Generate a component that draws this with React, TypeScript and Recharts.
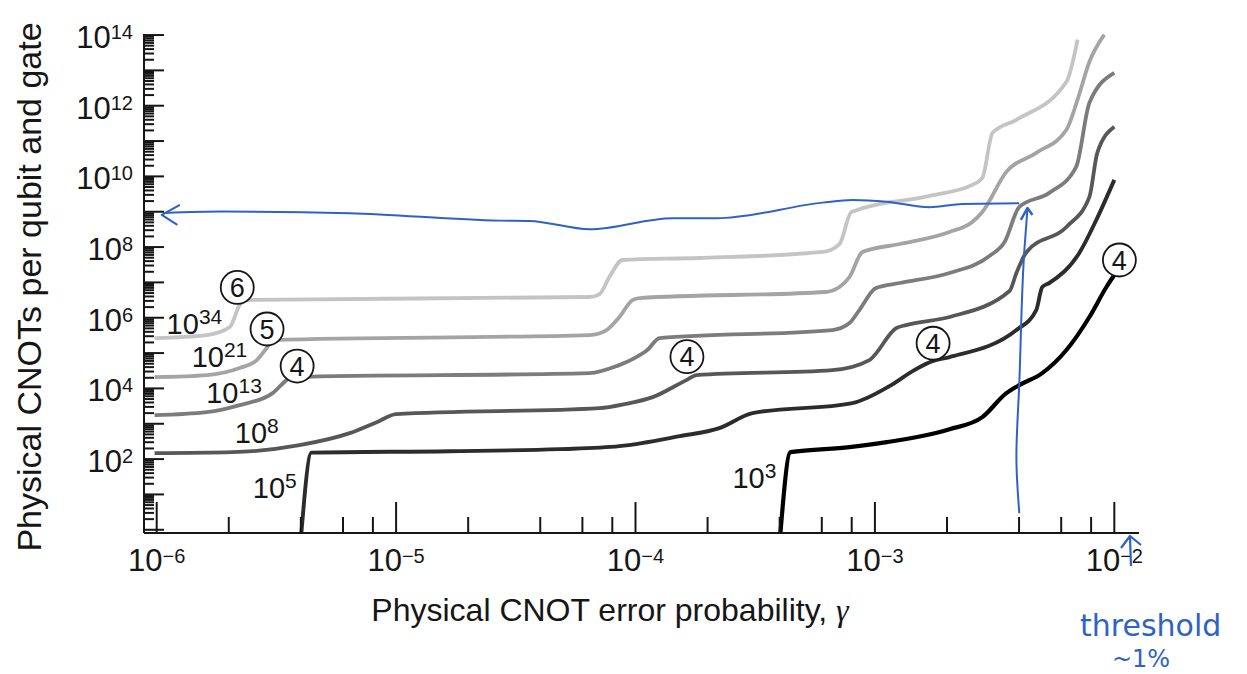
import React from 'react';
import { LineChart, Line, XAxis, YAxis, ReferenceDot } from 'recharts';

type Pt = [number, number];

const W = 1247;
const H = 674;

// physical CNOT error probability (x) vs physical CNOTs per logical qubit and gate (y)
// one curve per total computation size, lightest = 10^34 gates, black = 10^3 gates
const curve1e34: Pt[] = [
  [9.8e-7, 2.66e5], [1.62e-6, 3.24e5], [2.02e-6, 5.45e5], [2.22e-6, 2.29e6], [2.38e-6, 3.17e6],
  [6.43e-5, 3.86e6], [7.08e-5, 4.69e6], [7.78e-5, 1.42e7], [8.83e-5, 4.31e7], [1.85e-4, 4.91e7],
  [6.04e-4, 7.26e7], [7.11e-4, 1.22e8], [7.98e-4, 9.87e8], [1.69e-3, 2.8e9], [2.55e-3, 5.74e9],
  [2.81e-3, 9.07e9], [3.1e-3, 1.71e11], [3.9e-3, 3.99e11], [6.31e-3, 4.75e12], [7.02e-3, 7.36e13],
];
const curve1e21: Pt[] = [
  [9.8e-7, 2.09e4], [1.62e-6, 2.38e4], [2.22e-6, 3.76e4], [2.62e-6, 6.34e4], [2.88e-6, 1.39e5],
  [3.05e-6, 2.34e5], [6.43e-5, 3.24e5], [7.57e-5, 4.49e5], [8.57e-5, 1.05e6], [9.71e-5, 3.17e6],
  [1.04e-4, 3.61e6], [6.21e-4, 5.35e6], [7.11e-4, 7.41e6], [7.83e-4, 1.42e7], [8.87e-4, 7.26e7],
  [1.27e-3, 1.22e8], [2.05e-3, 2.68e8], [2.55e-3, 5.14e8], [2.81e-3, 9.87e8], [3.54e-3, 1.34e10],
  [4.72e-3, 4.63e10], [6.31e-3, 2.08e11], [7.02e-3, 1.47e12], [7.87e-3, 1.75e13], [9.08e-3, 1.02e14],
];
const curve1e13: Pt[] = [
  [9.8e-7, 1.75e3], [1.62e-6, 2.13e3], [2.22e-6, 3.36e3], [3.05e-6, 7.36e3], [3.49e-6, 1.72e4],
  [3.66e-6, 2.09e4], [6.43e-5, 2.71e4], [8.34e-5, 4.28e4], [9.91e-5, 7.21e4], [1.12e-4, 1.22e5],
  [1.26e-4, 2.66e5], [6.65e-4, 4.49e5], [7.83e-4, 7.08e5], [8.61e-4, 1.65e6], [1.01e-3, 6.94e6],
  [1.27e-3, 9.62e6], [2.05e-3, 1.85e7], [3.01e-3, 5.6e7], [3.48e-3, 1.39e8], [4.01e-3, 1.37e9],
  [5.35e-3, 3.41e9], [6.93e-3, 1.86e10], [7.87e-3, 1.21e12], [1.0e-2, 8.55e12],
];
const curve1e8: Pt[] = [
  [9.8e-7, 147], [2.07e-6, 157], [3.95e-6, 248], [6.4e-6, 542], [8.3e-6, 1.11e3],
  [1.0e-5, 1.87e3], [7.08e-5, 2.77e3], [9.0e-5, 3.59e3], [1.18e-4, 5.67e3], [1.63e-4, 1.72e4],
  [1.8e-4, 2.38e4], [6.65e-4, 3.3e4], [9.48e-4, 6.34e4], [1.23e-3, 5.11e5], [1.35e-3, 6.21e5],
  [2.05e-3, 1.05e6], [3.65e-3, 5.71e6], [3.9e-3, 1.85e7], [4.3e-3, 7.26e7], [6.31e-3, 3.71e8],
  [7.87e-3, 2.63e9], [8.49e-3, 4.63e10], [1.0e-2, 2.53e11],
];
const curve1e5: Pt[] = [
  [4.02e-6, 0.81], [4.43e-6, 152], [1.67e-5, 167], [4.82e-5, 191], [8.57e-5, 232],
  [1.53e-4, 445], [2.24e-4, 750], [3.08e-4, 2.0e3], [8.05e-4, 3.84e3], [1.15e-3, 1.16e4],
  [1.46e-3, 3.3e4], [1.74e-3, 5.93e4], [2.05e-3, 7.71e4], [3.9e-3, 4.49e5], [4.72e-3, 1.65e6],
  [5.0e-3, 7.41e6], [5.35e-3, 9.62e6], [7.14e-3, 6.81e7], [8.41e-3, 5.86e8], [1.0e-2, 7.96e9],
];
const curve1e3: Pt[] = [
  [4.03e-4, 0.81], [4.44e-4, 157], [7.83e-4, 217], [1.12e-3, 301], [2.05e-3, 700],
  [2.81e-3, 1.54e3], [3.54e-3, 7.36e3], [4.01e-3, 1.24e4], [5.0e-3, 2.71e4], [6.31e-3, 1.22e5],
  [7.87e-3, 1.05e6], [9.27e-3, 7.41e6], [1.0e-2, 1.62e7],
];

const curves = [curve1e34, curve1e21, curve1e13, curve1e8, curve1e5, curve1e3];
const curveExps = ['34', '21', '13', '8', '5', '3'];
const curveColors = ['#c4c4c4', '#a4a4a4', '#7c7c7c', '#575757', '#2c2c2c', '#000000'];
const curveWidths = [3.8, 3.8, 3.8, 3.8, 3.9, 4.2];
const curveLabelAt: Pt[] = [
  [1.1e-6, 3.45e5], [1.4e-6, 4.0e4], [1.61e-6, 3.84e3], [2.12e-6, 282], [2.52e-6, 7.8], [2.54e-4, 15],
];

// circled concatenation levels
const levelMarks = ['6', '5', '4', '4', '4', '4'];
const levelMarkAt: Pt[] = [
  [2.17e-6, 7.2e6], [2.89e-6, 4.8e5], [3.86e-6, 4.3e4], [1.64e-4, 7.9e4], [1.75e-3, 1.9e5], [1.05e-2, 4.3e7],
];

// hand-drawn blue annotations
const blueLine: Pt[] = [
  [1.08e-6, 9.25e8], [1.89e-6, 1.01e9], [6.4e-6, 9.07e8], [2.7e-5, 5.6e8], [3.61e-5, 5.48e8],
  [6.43e-5, 3.19e8], [1.43e-4, 6.55e8], [2.18e-4, 6.55e8], [6.04e-4, 1.81e9], [8.05e-4, 2.16e9],
  [1.12e-3, 1.93e9], [1.69e-3, 1.34e9], [2.32e-3, 1.66e9], [4.01e-3, 1.74e9],
];
const blueLeftHead: Pt[] = [[1.25e-6, 1.56e9], [1.05e-6, 8.11e8], [1.22e-6, 4.23e8]];
const blueRise: Pt[] = [[4.01e-3, 2.93], [3.9e-3, 113], [4.01e-3, 1.41e4], [4.21e-3, 8.28e7], [4.34e-3, 1.28e9]];
const blueUpHead: Pt[] = [[4.07e-3, 5.86e8], [4.34e-3, 1.28e9], [4.55e-3, 8.11e8]];

const xDecades = [1e-6, 1e-5, 1e-4, 1e-3, 1e-2];
const xMinorSteps = [2, 4, 6, 8];
const yDecades = [1, 1e1, 1e2, 1e3, 1e4, 1e5, 1e6, 1e7, 1e8, 1e9, 1e10, 1e11, 1e12, 1e13, 1e14];
const yMinorSteps = [2, 3, 4, 5, 6, 7, 8, 9];

const X_DOMAIN = [8.85e-7, 1.268e-2];
const Y_DOMAIN = [0.81, 1.07e14];

const xTicks = [...xDecades, ...xDecades.slice(0, -1).flatMap((d) => xMinorSteps.map((m) => m * d))].sort((a, b) => a - b);
const yTicks = [...yDecades, ...yDecades.slice(0, -1).flatMap((d) => yMinorSteps.map((m) => m * d))].sort((a, b) => a - b);

const FONT = '"Liberation Sans", Arial, Helvetica, sans-serif';
const INK = '#161616';
const BLUE = '#2f62c6';

const rows = (pts: Pt[]) => pts.map(([x, y]) => ({ x, y }));
const isDecade = (v: number) => Math.abs(Math.log10(v) - Math.round(Math.log10(v))) < 1e-6;

function BottomTick(props: any) {
  const { x, y, payload } = props;
  const major = isDecade(payload.value);
  const exp = Math.round(Math.log10(payload.value));
  return (
    <g>
      <line x1={x} x2={x} y1={y} y2={y - (major ? 31 : 16)} stroke={INK} strokeWidth={2} />
      {major && (
        <text x={x} y={y + 38} textAnchor="middle" fontFamily={FONT} fontSize={31} fill={INK}>
          10<tspan dy={-8} fontSize={20}>{'\u2212' + Math.abs(exp)}</tspan>
        </text>
      )}
    </g>
  );
}

function TopTick(props: any) {
  const { x, y } = props;
  return <line x1={x} x2={x} y1={y} y2={y + 15.5} stroke={INK} strokeWidth={2} />;
}

function LeftTick(props: any) {
  const { x, y, payload } = props;
  const major = isDecade(payload.value);
  const exp = Math.round(Math.log10(payload.value));
  return (
    <g>
      <line x1={x} x2={x + (major ? 20 : 10)} y1={y} y2={y} stroke={INK} strokeWidth={2} />
      {major && exp > 0 && exp % 2 === 0 && (
        <text x={x - 11} y={y + 13} textAnchor="end" fontFamily={FONT} fontSize={31} fill={INK}>
          10<tspan dy={-9} fontSize={20}>{exp}</tspan>
        </text>
      )}
    </g>
  );
}

export default function App() {
  return (
    <div style={{ position: 'absolute', left: 0, top: 0, width: W, height: H, background: '#fff' }}>
      <LineChart width={W} height={H} margin={{ top: 34, right: 108, bottom: 0, left: 0 }}>
        <XAxis
          dataKey="x"
          type="number"
          scale="log"
          domain={X_DOMAIN}
          allowDataOverflow
          ticks={xTicks}
          interval={0}
          tickSize={0}
          tickMargin={0}
          tickLine={false}
          axisLine={{ stroke: INK, strokeWidth: 2 }}
          tick={<BottomTick />}
          height={141}
        />
        <XAxis
          xAxisId="top"
          orientation="top"
          dataKey="x"
          type="number"
          scale="log"
          domain={X_DOMAIN}
          allowDataOverflow
          ticks={xTicks}
          interval={0}
          tickSize={0}
          tickMargin={0}
          tickLine={false}
          axisLine={{ stroke: INK, strokeWidth: 2 }}
          tick={<TopTick />}
          height={0}
        />
        <YAxis
          type="number"
          scale="log"
          domain={Y_DOMAIN}
          allowDataOverflow
          ticks={yTicks}
          interval={0}
          tickSize={0}
          tickMargin={0}
          tickLine={false}
          axisLine={{ stroke: INK, strokeWidth: 2 }}
          tick={<LeftTick />}
          width={144}
        />
        <YAxis
          yAxisId="right"
          orientation="right"
          type="number"
          scale="log"
          domain={Y_DOMAIN}
          allowDataOverflow
          tick={false}
          tickLine={false}
          axisLine={{ stroke: INK, strokeWidth: 2 }}
          width={0}
        />

        {curves.map((c, i) => (
          <Line
            key={curveExps[i]}
            data={rows(c)}
            dataKey="y"
            type="monotoneX"
            stroke={curveColors[i]}
            strokeWidth={curveWidths[i]}
            dot={false}
            activeDot={false}
            isAnimationActive={false}
          />
        ))}

        <Line data={rows(blueLine)} dataKey="y" type="monotoneX" stroke={BLUE} strokeWidth={2} dot={false} activeDot={false} isAnimationActive={false} />
        <Line data={rows(blueLeftHead)} dataKey="y" type="linear" stroke={BLUE} strokeWidth={2} strokeLinejoin="round" dot={false} activeDot={false} isAnimationActive={false} />
        <Line data={rows(blueRise)} dataKey="y" type="monotoneY" stroke={BLUE} strokeWidth={2} dot={false} activeDot={false} isAnimationActive={false} />
        <Line data={rows(blueUpHead)} dataKey="y" type="linear" stroke={BLUE} strokeWidth={2.4} strokeLinejoin="round" dot={false} activeDot={false} isAnimationActive={false} />

        {curveLabelAt.map(([x, y], i) => (
          <ReferenceDot
            key={'lab' + i}
            x={x}
            y={y}
            r={0}
            ifOverflow="visible"
            shape={(p: any) => (
              <text x={p.cx} y={p.cy} fontFamily={FONT} fontSize={29} fill={INK}>
                10<tspan dy={-10} fontSize={21}>{curveExps[i]}</tspan>
              </text>
            )}
          />
        ))}

        {levelMarkAt.map(([x, y], i) => (
          <ReferenceDot
            key={'lvl' + i}
            x={x}
            y={y}
            r={16.5}
            ifOverflow="visible"
            shape={(p: any) => (
              <g>
                <circle cx={p.cx} cy={p.cy} r={16.5} fill="#fff" stroke={INK} strokeWidth={1.8} />
                <text x={p.cx} y={p.cy + 9.5} textAnchor="middle" fontFamily={FONT} fontSize={27} fill={INK}>
                  {levelMarks[i]}
                </text>
              </g>
            )}
          />
        ))}
      </LineChart>

      <svg width={W} height={H} style={{ position: 'absolute', left: 0, top: 0, pointerEvents: 'none' }}>
        <text
          transform="translate(41,287) rotate(-90)"
          textAnchor="middle"
          fontFamily={FONT}
          fontSize={34}
          fill={INK}
        >
          Physical CNOTs per qubit and gate
        </text>
        <text x={610} y={621} textAnchor="middle" fontFamily={FONT} fontSize={32} fill={INK}>
          Physical CNOT error probability,{' '}
          <tspan fontFamily='"Liberation Serif", serif' fontStyle="italic">γ</tspan>
        </text>
        <path d="M1131 566 L1130 537 M1121 548 L1130 536 L1141 545" stroke={BLUE} strokeWidth={2.2} fill="none" strokeLinejoin="round" />
        <text x={1080} y={636} fontFamily='"DejaVu Sans", sans-serif' fontSize={30} fill={BLUE}>
          threshold
        </text>
        <text x={1141} y={667} textAnchor="middle" fontFamily='"DejaVu Sans", sans-serif' fontSize={24} fill={BLUE}>
          ~1%
        </text>
      </svg>
    </div>
  );
}
